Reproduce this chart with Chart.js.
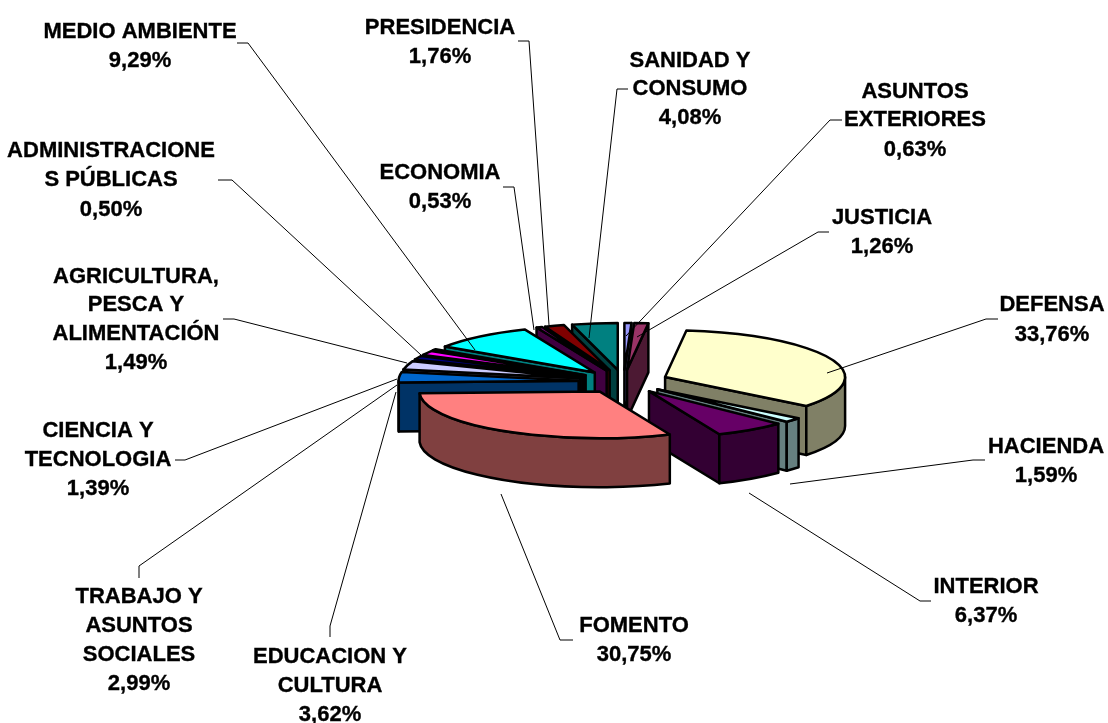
<!DOCTYPE html>
<html><head><meta charset="utf-8">
<style>html,body{margin:0;padding:0;background:#fff}#w{width:1108px;height:723px;position:relative}</style>
<script src="https://cdn.jsdelivr.net/npm/chart.js@4/dist/chart.umd.min.js"></script>
</head><body><div id="w"><canvas id="c"></canvas></div>
<script>
const categories = ["ASUNTOS EXTERIORES","JUSTICIA","DEFENSA","HACIENDA","INTERIOR","FOMENTO","EDUCACION Y CULTURA","TRABAJO Y ASUNTOS SOCIALES","CIENCIA Y TECNOLOGIA","AGRICULTURA, PESCA Y ALIMENTACIÓN","ADMINISTRACIONES PÚBLICAS","MEDIO AMBIENTE","ECONOMIA","PRESIDENCIA","SANIDAD Y CONSUMO"];
const values = [0.63,1.26,33.76,1.59,6.37,30.75,3.62,2.99,1.39,1.49,0.50,9.29,0.53,1.76,4.08];
const topColors = ["#9999FF","#993366","#FFFFCC","#CCFFFF","#660066","#FF8080","#0066CC","#CCCCFF","#000080","#FF00FF","#FFFF00","#00FFFF","#800080","#800000","#008080"];
const wallColors = ["#4C4C80","#4C1933","#808066","#668080","#330033","#804040","#003366","#666680","#000040","#800080","#808000","#008080","#400040","#400000","#004040"];

const tilt = 0.26, depth = 49, explode = 45, pieRadius = 180;

// Label text lines with their block centre x and the line centres y
const labelBlocks = [
  {lines:["MEDIO AMBIENTE","9,29%"], x:140, y:[32,61]},
  {lines:["PRESIDENCIA","1,76%"], x:440, y:[28,57]},
  {lines:["SANIDAD Y","CONSUMO","4,08%"], x:690, y:[61,89,118]},
  {lines:["ASUNTOS","EXTERIORES","0,63%"], x:915, y:[92,120,150]},
  {lines:["JUSTICIA","1,26%"], x:882, y:[218,247]},
  {lines:["ECONOMIA","0,53%"], x:440, y:[173,202]},
  {lines:["ADMINISTRACIONE","S PÚBLICAS","0,50%"], x:111, y:[151,180,210]},
  {lines:["AGRICULTURA,","PESCA Y","ALIMENTACIÓN","1,49%"], x:136, y:[277,305,334,363]},
  {lines:["CIENCIA Y","TECNOLOGIA","1,39%"], x:98, y:[431,460,489]},
  {lines:["TRABAJO Y","ASUNTOS","SOCIALES","2,99%"], x:139, y:[597,626,655,684]},
  {lines:["EDUCACION Y","CULTURA","3,62%"], x:330, y:[657,686,715]},
  {lines:["FOMENTO","30,75%"], x:634, y:[626,655]},
  {lines:["INTERIOR","6,37%"], x:986, y:[587,616]},
  {lines:["HACIENDA","1,59%"], x:1046, y:[447,476]},
  {lines:["DEFENSA","33,76%"], x:1052, y:[305,335]}
];
// Leader lines from each label to its slice
const leaderPaths = [
  [[237,43],[248,43],[475,350]],
  [[518,41],[529,41],[549,325]],
  [[628,89],[617,89],[589,338]],
  [[503,187],[514,187],[534,330]],
  [[842,120],[830,120],[626,336]],
  [[829,232],[818,232],[637,337]],
  [[998,319],[986,319],[827,373]],
  [[985,460],[973,460],[790,484]],
  [[931,601],[920,601],[749,493]],
  [[573,640],[560,640],[501,494]],
  [[330,637],[330,626],[396,392]],
  [[139,578],[139,566],[397,385]],
  [[175,460],[185,460],[397,379]],
  [[223,319],[234,319],[407,363]],
  [[218,180],[232,180],[421,355]]
];

const pie3d = {
  id:'pie3d',
  beforeDatasetDraw(chart){
    const ctx = chart.ctx;
    const arcs = chart.getDatasetMeta(0).data.map((a,i)=>({a,i}));
    const midOf = o => (o.a.startAngle+o.a.endAngle)/2;
    arcs.sort((p,q)=>Math.sin(midOf(p))-Math.sin(midOf(q)));
    for(const {a,i} of arcs){
      const mid=(a.startAngle+a.endAngle)/2, s=a.startAngle, e=a.endAngle, R=a.outerRadius;
      const px=a.x+Math.cos(mid)*explode, py=a.y+Math.sin(mid)*explode*tilt;
      ctx.save();
      ctx.lineWidth=2.5; ctx.lineJoin='round'; ctx.strokeStyle='#000';
      const wall=(build)=>{ctx.beginPath();build();ctx.closePath();ctx.fillStyle=wallColors[i];ctx.fill();ctx.stroke();};
      const pt=(ang)=>[px+Math.cos(ang)*R, py+Math.sin(ang)*R*tilt];
      const spans=[];
      for(const k of [-2*Math.PI,0,2*Math.PI]){
        const lo=Math.max(s+k,0), hi=Math.min(e+k,Math.PI);
        if(hi>lo) spans.push([lo,hi]);
      }
      if(Math.cos(s)<0){const q=pt(s);wall(()=>{ctx.moveTo(px,py);ctx.lineTo(q[0],q[1]);ctx.lineTo(q[0],q[1]+depth);ctx.lineTo(px,py+depth);});}
      if(Math.cos(e)>0){const q=pt(e);wall(()=>{ctx.moveTo(px,py);ctx.lineTo(q[0],q[1]);ctx.lineTo(q[0],q[1]+depth);ctx.lineTo(px,py+depth);});}
      for(const [lo,hi] of spans){
        wall(()=>{ctx.ellipse(px,py,R,R*tilt,0,lo,hi);ctx.ellipse(px,py+depth,R,R*tilt,0,hi,lo,true);});
      }
      // top face, drawn by the library's own arc element under a flattening transform
      ctx.save();
      ctx.translate(px-a.x, py);
      ctx.scale(1,tilt);
      ctx.translate(0,-a.y);
      a.draw(ctx);
      ctx.restore();
      ctx.beginPath();
      ctx.moveTo(px,py);
      ctx.ellipse(px,py,R,R*tilt,0,s,e);
      ctx.closePath();
      ctx.stroke();
      ctx.restore();
    }
    return false;
  },
  afterDatasetsDraw(chart){
    const ctx=chart.ctx;
    ctx.save();
    ctx.strokeStyle='#000';ctx.lineWidth=1;
    for(const p of leaderPaths){
      ctx.beginPath();
      p.forEach((q,k)=>k?ctx.lineTo(q[0],q[1]):ctx.moveTo(q[0],q[1]));
      ctx.stroke();
    }
    ctx.fillStyle='#000';
    ctx.strokeStyle='#000';ctx.lineWidth=0.35;
    ctx.font='bold 22px "Liberation Sans", Arial, sans-serif';
    ctx.textAlign='center';ctx.textBaseline='middle';
    for(const b of labelBlocks){
      b.lines.forEach((t,k)=>{ctx.fillText(t,b.x,b.y[k]);ctx.strokeText(t,b.x,b.y[k]);});
    }
    ctx.restore();
  }
};

new Chart(document.getElementById('c'),{
  type:'pie',
  data:{labels:categories,datasets:[{data:values,backgroundColor:topColors,borderWidth:0}]},
  options:{
    responsive:true,maintainAspectRatio:false,animation:false,
    radius:pieRadius,rotation:0,
    layout:{padding:{left:139,top:40}},
    plugins:{legend:{display:false},tooltip:{enabled:false},title:{display:false}}
  },
  plugins:[pie3d]
});
</script></body></html>
